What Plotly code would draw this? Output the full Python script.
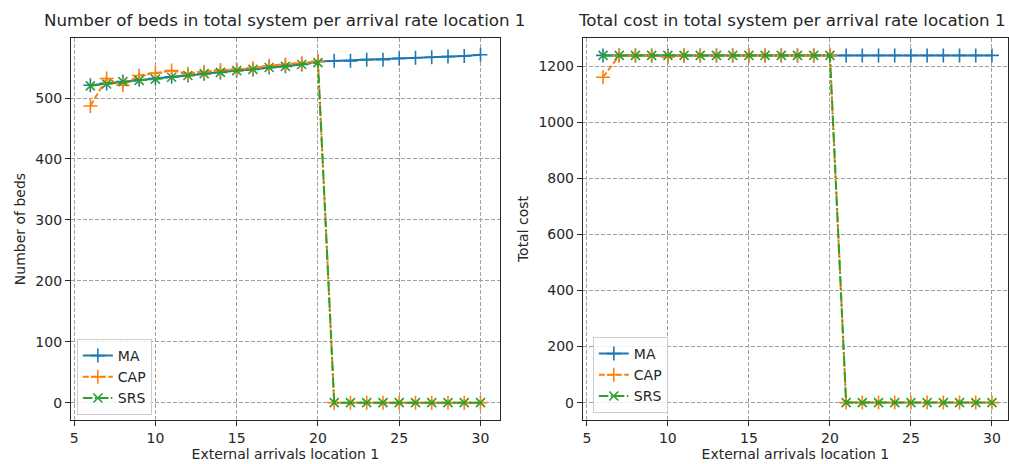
import plotly.graph_objects as go

W, H = 1009, 464

arrivals = list(range(6, 31))

beds_MA = [521, 524, 527, 530, 532, 535, 537, 540, 542, 545, 547, 550, 552, 555, 560,
           561, 561, 563, 563, 565, 566, 567, 568, 569, 571]
beds_CAP = [487, 532, 521, 537, 541, 545, 540, 543, 546, 547, 549, 553, 555, 557, 560,
            0, 0, 0, 0, 0, 0, 0, 0, 0, 0]
beds_SRS = [520, 523, 527, 529, 531, 534, 537, 540, 542, 545, 547, 550, 552, 555, 558,
            0, 0, 0, 0, 0, 0, 0, 0, 0, 0]

cost_MA = [1238, 1238, 1238, 1238, 1238, 1238, 1238, 1238, 1238, 1238, 1238, 1238, 1238,
           1238, 1238, 1238, 1238, 1238, 1238, 1238, 1238, 1238, 1238, 1238, 1238]
cost_CAP = [1160, 1238, 1238, 1238, 1232, 1238, 1238, 1238, 1238, 1238, 1238, 1238, 1238,
            1238, 1238, 0, 0, 0, 0, 0, 0, 0, 0, 0, 0]
cost_SRS = [1238, 1238, 1238, 1238, 1238, 1238, 1238, 1238, 1238, 1238, 1238, 1238, 1238,
            1238, 1238, 0, 0, 0, 0, 0, 0, 0, 0, 0, 0]

series_names = ["MA", "CAP", "SRS"]
colors = ["#1f77b4", "#ff7f0e", "#2ca02c"]
dashes = ["solid", "6px,2.5px", "9.5px,2.5px,1.5px,2.5px"]
symbols = ["cross-thin", "cross-thin", "x-thin"]
msizes = [10, 10, 9]

x_ticks = [5, 10, 15, 20, 25, 30]
beds_ticks = [0, 100, 200, 300, 400, 500]
cost_ticks = [0, 200, 400, 600, 800, 1000, 1200]

FONT = "DejaVu Sans"
TXT = "#262626"

fig = go.Figure()

panels = [
    ("x", "y", "legend", [beds_MA, beds_CAP, beds_SRS]),
    ("x2", "y2", "legend2", [cost_MA, cost_CAP, cost_SRS]),
]
for xa, ya, lg, data in panels:
    for name, col, dash, sym, ms, vals in zip(series_names, colors, dashes, symbols, msizes, data):
        fig.add_trace(go.Scatter(
            x=arrivals, y=vals, name=name, mode="lines+markers",
            xaxis=xa, yaxis=ya, legend=lg,
            line=dict(color=col, width=2, dash=dash),
            marker=dict(symbol=sym, size=ms, color=col, line=dict(color=col, width=1.6)),
        ))

axis_common = dict(
    showline=True, linecolor="#262626", linewidth=1, mirror=True,
    ticks="outside", ticklen=5, tickcolor="#262626", tickwidth=1,
    showgrid=True, gridcolor="#a0a0a0", griddash="4px,2px", gridwidth=1,
    zeroline=False, tickfont=dict(family=FONT, size=14, color=TXT),
    title_font=dict(family=FONT, size=14, color=TXT),
)

legend_common = dict(
    xanchor="left", yanchor="bottom",
    bgcolor="rgba(255,255,255,0.8)", bordercolor="#cccccc", borderwidth=1,
    font=dict(family=FONT, size=14, color=TXT), itemwidth=30, tracegroupgap=0,
)

fig.update_layout(
    width=W, height=H, margin=dict(l=0, r=0, t=0, b=0),
    paper_bgcolor="white", plot_bgcolor="white",
    font=dict(family=FONT, size=14, color=TXT),
    xaxis=dict(domain=[70 / W, 500 / W], range=[4.8, 31.2], tickvals=x_ticks,
               title=dict(text="External arrivals location 1", standoff=4), anchor="y", **axis_common),
    yaxis=dict(domain=[1 - 420 / H, 1 - 38 / H], range=[-28.5, 598.5], tickvals=beds_ticks,
               title=dict(text="Number of beds", standoff=6), anchor="x", **axis_common),
    xaxis2=dict(domain=[583 / W, 1.0], range=[4.754, 30.99], tickvals=x_ticks,
                title=dict(text="External arrivals location 1", standoff=4), anchor="y2", **axis_common),
    yaxis2=dict(domain=[1 - 420 / H, 1 - 38 / H], range=[-62, 1300], tickvals=cost_ticks,
                title=dict(text="Total cost", standoff=6), anchor="x2", **axis_common),
    legend=dict(x=76 / W, y=1 - 415 / H, **legend_common),
    legend2=dict(x=593 / W, y=1 - 413 / H, **legend_common),
    annotations=[
        dict(text="Number of beds in total system per arrival rate location 1",
             x=285 / W, y=1 - 20 / H, xref="paper", yref="paper", showarrow=False,
             xanchor="center", yanchor="middle", font=dict(family=FONT, size=16.7, color=TXT)),
        dict(text="Total cost in total system per arrival rate location 1",
             x=793 / W, y=1 - 20 / H, xref="paper", yref="paper", showarrow=False,
             xanchor="center", yanchor="middle", font=dict(family=FONT, size=16.7, color=TXT)),
    ],
)

fig.write_html("out.html")
